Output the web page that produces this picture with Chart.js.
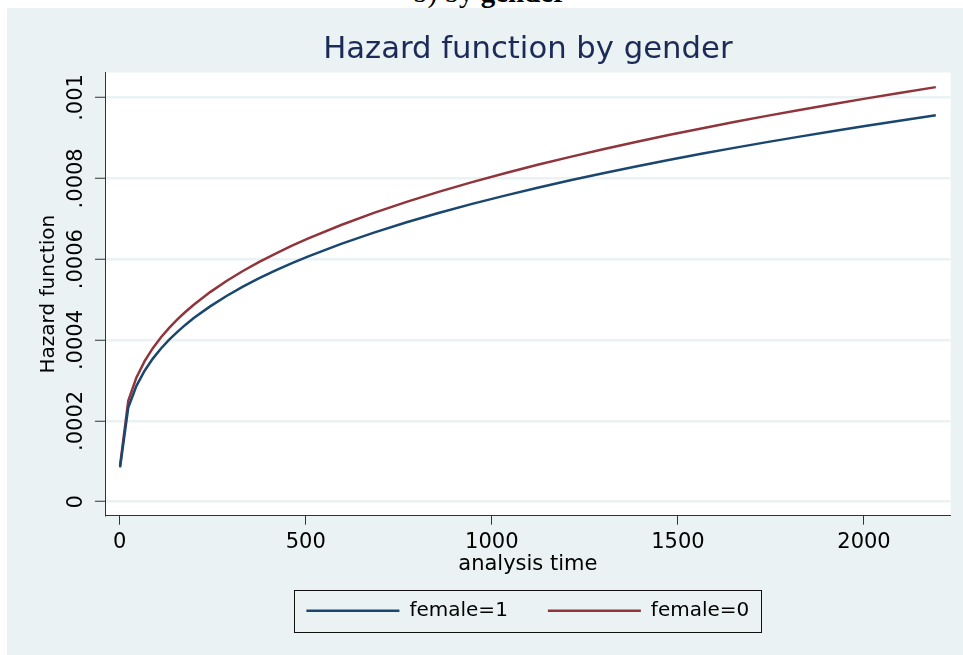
<!DOCTYPE html>
<html>
<head>
<meta charset="utf-8">
<script src="https://cdn.jsdelivr.net/npm/chart.js@4.4.0/dist/chart.umd.min.js"></script>
<style>
  html, body { margin: 0; padding: 0; background: #ffffff; width: 963px; height: 655px; overflow: hidden; }
  #cap { position: absolute; left: 413px; top: -22px; font-family: 'Liberation Serif', serif; font-size: 29px; line-height: 29px; white-space: nowrap; color: #000; }
  #c { position: absolute; left: 7px; top: 8px; background: #EAF2F3; }
</style>
</head>
<body>
<div id="cap">b) by <b>gender</b></div>
<canvas id="c" width="956" height="647"></canvas>
<script>
// ---- data ----
const times = [1, 23, 45, 67, 89, 111, 133, 155, 177, 199, 243, 287, 331, 375, 419, 463, 507,
  595, 683, 771, 859, 947, 1035, 1123, 1211, 1299, 1387, 1475, 1563, 1651, 1739, 1827, 1915, 2003, 2091, 2193];
const female1 = [0.0000850, 0.0002327, 0.0002866, 0.0003241, 0.0003540, 0.0003791, 0.0004009, 0.0004203,
  0.0004380, 0.0004543, 0.0004832, 0.0005090, 0.0005319, 0.0005530, 0.0005722, 0.0005902, 0.0006070,
  0.0006380, 0.0006658, 0.0006913, 0.0007148, 0.0007368, 0.0007573, 0.0007767, 0.0007951, 0.0008126,
  0.0008294, 0.0008453, 0.0008606, 0.0008753, 0.0008896, 0.0009032, 0.0009165, 0.0009294, 0.0009419, 0.0009559];
const female0 = [0.0000900, 0.0002497, 0.0003075, 0.0003478, 0.0003798, 0.0004068, 0.0004302, 0.0004510,
  0.0004700, 0.0004874, 0.0005185, 0.0005461, 0.0005707, 0.0005933, 0.0006139, 0.0006333, 0.0006513,
  0.0006845, 0.0007144, 0.0007417, 0.0007670, 0.0007906, 0.0008126, 0.0008334, 0.0008531, 0.0008719,
  0.0008899, 0.0009070, 0.0009234, 0.0009392, 0.0009545, 0.0009691, 0.0009834, 0.0009972, 0.0010106, 0.0010256];
const seriesNames = ['female=1', 'female=0'];
const xTickValues = [0, 500, 1000, 1500, 2000];
const yTickValues = [0, 0.0002, 0.0004, 0.0006, 0.0008, 0.001];
const yTickLabels = ['0', '.0002', '.0004', '.0006', '.0008', '.001'];
const chartTitle = 'Hazard function by gender';
const xTitle = 'analysis time';
const yTitle = 'Hazard function';

const FONT = 'DejaVu Sans';
Chart.defaults.font.family = FONT;
Chart.defaults.color = '#000';

const toPoints = (ys) => times.map((t, i) => ({ x: t, y: ys[i] }));

const plotBg = {
  id: 'plotBg',
  beforeDraw(chart) {
    const a = chart.chartArea, ctx = chart.ctx;
    ctx.save();
    ctx.fillStyle = '#ffffff';
    ctx.fillRect(a.left, a.top, a.right - a.left, a.bottom - a.top);
    ctx.restore();
  }
};
const legendFrame = {
  id: 'legendFrame',
  afterDraw(chart) {
    const hb = chart.legend && chart.legend.legendHitBoxes;
    if (!hb || !hb.length) return;
    const l = Math.min(...hb.map(b => b.left)) - 12;
    const r = Math.max(...hb.map(b => b.left + b.width)) + 12;
    const t = Math.min(...hb.map(b => b.top)) - 11;
    const b = Math.max(...hb.map(b => b.top + b.height)) + 11;
    const ctx = chart.ctx;
    ctx.save();
    ctx.strokeStyle = '#111';
    ctx.lineWidth = 1;
    ctx.strokeRect(Math.round(l) + 0.5, Math.round(t) + 0.5, Math.round(r - l), Math.round(b - t));
    ctx.restore();
  }
};

new Chart(document.getElementById('c'), {
  type: 'line',
  data: {
    datasets: [
      { label: seriesNames[0], data: toPoints(female1), borderColor: '#1A476F', backgroundColor: '#1A476F',
        borderWidth: 2.5, pointRadius: 0, tension: 0, fill: false },
      { label: seriesNames[1], data: toPoints(female0), borderColor: '#90353B', backgroundColor: '#90353B',
        borderWidth: 2.5, pointRadius: 0, tension: 0, fill: false }
    ]
  },
  options: {
    responsive: false,
    animation: false,
    devicePixelRatio: 1,
    layout: { padding: { top: 0, left: 0, right: 12.3, bottom: 24.3 } },
    plugins: {
      title: {
        display: true, text: chartTitle, color: '#1c2a57', fullSize: false,
        font: { family: FONT, size: 30.7, weight: 'normal' },
        padding: { top: 24, bottom: 3.7 }
      },
      legend: {
        position: 'bottom', fullSize: false,
        labels: {
          usePointStyle: true, pointStyle: 'line', pointStyleWidth: 93, boxHeight: 20,
          padding: 40, color: '#000', font: { family: FONT, size: 20 }
        }
      },
      tooltip: { enabled: false }
    },
    scales: {
      x: {
        type: 'linear', position: 'bottom', min: -39.5, max: 2233,
        afterBuildTicks: (s) => { s.ticks = xTickValues.map(v => ({ value: v })); },
        afterFit: (s) => { s.height = 45; },
        ticks: { autoSkip: false, maxRotation: 0, padding: 5, color: '#000', font: { family: FONT, size: 21 },
          callback: (v) => String(v) },
        grid: { display: true, drawOnChartArea: false, drawTicks: true, tickLength: 9, tickColor: '#333', tickWidth: 1 },
        border: { display: true, color: '#333', width: 1 },
        title: { display: true, text: xTitle, color: '#000', font: { family: FONT, size: 21 }, padding: { top: 0, bottom: -16.3 } }
      },
      y: {
        type: 'linear', position: 'left', min: -0.0000346, max: 0.0010617,
        afterBuildTicks: (s) => { s.ticks = yTickValues.map(v => ({ value: v })); },
        afterFit: (s) => { s.width = 98; },
        ticks: { autoSkip: false, minRotation: 90, maxRotation: 90, crossAlign: 'center', padding: -11.3,
          color: '#000', font: { family: FONT, size: 21 },
          callback: (v, i) => yTickLabels[i] },
        grid: { display: true, drawOnChartArea: true, color: '#EAF2F3', lineWidth: 2.5,
          drawTicks: true, tickLength: 10, tickColor: '#333', tickWidth: 1 },
        border: { display: true, color: '#333', width: 1 },
        title: { display: true, text: yTitle, color: '#000', font: { family: FONT, size: 20 }, padding: { top: 30, bottom: 0 } }
      }
    }
  },
  plugins: [plotBg, legendFrame]
});
</script>
</body>
</html>
